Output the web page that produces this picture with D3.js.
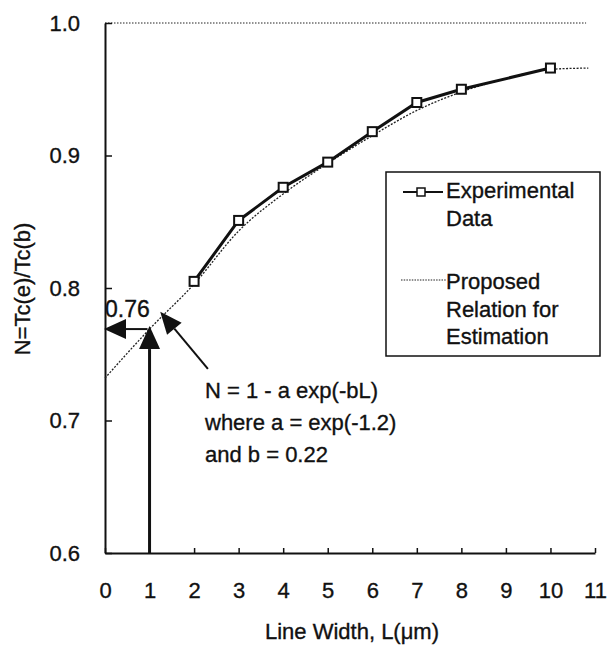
<!DOCTYPE html>
<html>
<head>
<meta charset="utf-8">
<script src="https://cdn.jsdelivr.net/npm/d3@7"></script>
<style>
  body { margin: 0; background: #fff; }
  text { font-family: "Liberation Sans", Arial, sans-serif; fill: #111; stroke: #111; stroke-width: 0.35px; }
</style>
</head>
<body>
<svg id="chart" width="611" height="647"></svg>
<script>
// measured data (line width in um vs Tc ratio)
var widths = [2, 3, 4, 5, 6, 7, 8, 10];
var ratios = [0.805, 0.851, 0.876, 0.895, 0.918, 0.940, 0.950, 0.966];

// proposed relation
var fitWidths = [0, 1, 2, 3, 4, 5, 6, 7, 8, 9, 10, 10.85];
var fitRatios = [0.732, 0.769, 0.803, 0.843, 0.871, 0.894, 0.915, 0.934, 0.948, 0.958, 0.965, 0.966];

var xTicks = [0, 1, 2, 3, 4, 5, 6, 7, 8, 9, 10, 11];
var yTicks = [0.6, 0.7, 0.8, 0.9, 1.0];

var markWidth = 1, markRatio = 0.769, markLabel = "0.76";
var noteLines = ["N = 1 - a exp(-bL)", "where a = exp(-1.2)", "and b = 0.22"];
var legendLabels = [["Experimental", "Data"], ["Proposed", "Relation for", "Estimation"]];

var svg = d3.select("#chart");

var x = d3.scaleLinear().domain([0, 11]).range([105, 595]);
var y = d3.scaleLinear().domain([0.6, 1.0]).range([553, 23]);

// top dotted line at 1.0
svg.append("line")
  .attr("x1", x(0)).attr("x2", x(10.8))
  .attr("y1", y(1.0)).attr("y2", y(1.0))
  .style("stroke", "#222").style("stroke-width", 1)
  .style("stroke-dasharray", "1.5,1.5");

// axes
svg.append("g")
  .attr("transform", "translate(0," + y(0.6) + ")")
  .call(d3.axisBottom(x).tickValues(xTicks).tickSizeInner(-5).tickSizeOuter(0).tickPadding(29));

svg.append("g")
  .attr("transform", "translate(" + x(0) + ",0)")
  .call(d3.axisLeft(y).tickValues(yTicks).tickFormat(d3.format(".1f"))
    .tickSizeInner(-7).tickSizeOuter(0).tickPadding(25));

svg.selectAll(".domain").style("stroke", "#111").style("stroke-width", 2);
svg.selectAll(".tick line").style("stroke", "#111").style("stroke-width", 1.5);
svg.selectAll(".tick text")
  .style("font-size", "22px").style("font-family", "Liberation Sans, Arial, sans-serif")
  .style("fill", "#111").style("stroke", "#111").style("stroke-width", "0.35px");

// axis titles
svg.append("text")
  .attr("x", 352).attr("y", 639)
  .attr("text-anchor", "middle")
  .style("font-size", "22px")
  .text("Line Width, L(\u03bcm)");

svg.append("text")
  .attr("transform", "translate(30,289) rotate(-90)")
  .attr("text-anchor", "middle")
  .style("font-size", "22px")
  .text("N=Tc(e)/Tc(b)");

// proposed relation curve
var fitLine = d3.line()
  .x(function(d, i) { return x(fitWidths[i]); })
  .y(function(d) { return y(d); })
  .curve(d3.curveMonotoneX);

svg.append("path")
  .datum(fitRatios)
  .attr("d", fitLine)
  .style("fill", "none")
  .style("stroke", "#222")
  .style("stroke-width", 1.3)
  .style("stroke-dasharray", "2,1.5");

// experimental data
var dataLine = d3.line()
  .x(function(d, i) { return x(widths[i]); })
  .y(function(d) { return y(d); });

svg.append("path")
  .datum(ratios)
  .attr("d", dataLine)
  .style("fill", "none")
  .style("stroke", "#111")
  .style("stroke-width", 3);

svg.selectAll(".pt")
  .data(ratios)
  .enter()
  .append("rect")
  .attr("class", "pt")
  .attr("x", function(d, i) { return x(widths[i]) - 4.5; })
  .attr("y", function(d) { return y(d) - 4.5; })
  .attr("width", 9).attr("height", 9)
  .style("fill", "#fff")
  .style("stroke", "#111")
  .style("stroke-width", 2);

// arrows
function arrow(x1, y1, x2, y2, w, headLen, headHalf) {
  var ang = Math.atan2(y2 - y1, x2 - x1);
  var bx = x2 - headLen * Math.cos(ang), by = y2 - headLen * Math.sin(ang);
  svg.append("line")
    .attr("x1", x1).attr("y1", y1).attr("x2", bx).attr("y2", by)
    .style("stroke", "#111").style("stroke-width", w);
  var px = -Math.sin(ang) * headHalf, py = Math.cos(ang) * headHalf;
  svg.append("path")
    .attr("d", "M" + x2 + "," + y2 + "L" + (bx + px) + "," + (by + py) + "L" + (bx - px) + "," + (by - py) + "Z")
    .style("fill", "#111");
}

// vertical arrow up from L=1
arrow(x(markWidth), y(0.6), x(markWidth), y(markRatio) - 3, 3, 23, 10.5);
// horizontal arrow to the axis
arrow(x(markWidth) - 2, y(markRatio), x(0) - 1, y(markRatio), 2, 22, 10);
// diagonal arrow from the note to the curve
arrow(x(2.31), y(0.739), x(1.24), y(0.782), 2, 22, 9.5);

svg.append("text")
  .attr("x", x(0)).attr("y", 317)
  .style("font-size", "23px")
  .text(markLabel);

// equation note
svg.selectAll(".note")
  .data(noteLines)
  .enter()
  .append("text")
  .attr("class", "note")
  .attr("x", 205)
  .attr("y", function(d, i) { return 398 + i * 32; })
  .style("font-size", "22px")
  .text(function(d) { return d; });

// legend
var lg = svg.append("g");
lg.append("rect")
  .attr("x", 386).attr("y", 172).attr("width", 214).attr("height", 184)
  .style("fill", "#fff").style("stroke", "#111").style("stroke-width", 1.5);

lg.append("line")
  .attr("x1", 403).attr("x2", 443).attr("y1", 192).attr("y2", 192)
  .style("stroke", "#111").style("stroke-width", 2);
lg.append("rect")
  .attr("x", 417).attr("y", 188).attr("width", 8).attr("height", 8)
  .style("fill", "#fff").style("stroke", "#111").style("stroke-width", 1.5);

lg.append("line")
  .attr("x1", 401).attr("x2", 446).attr("y1", 280).attr("y2", 280)
  .style("stroke", "#222").style("stroke-width", 1.2)
  .style("stroke-dasharray", "1.5,1.2");

var legendBase = [198, 289];
legendLabels.forEach(function(lines, k) {
  lines.forEach(function(t, j) {
    lg.append("text")
      .attr("x", 446)
      .attr("y", legendBase[k] + j * 27.5)
      .style("font-size", "22px")
      .text(t);
  });
});
</script>
</body>
</html>
